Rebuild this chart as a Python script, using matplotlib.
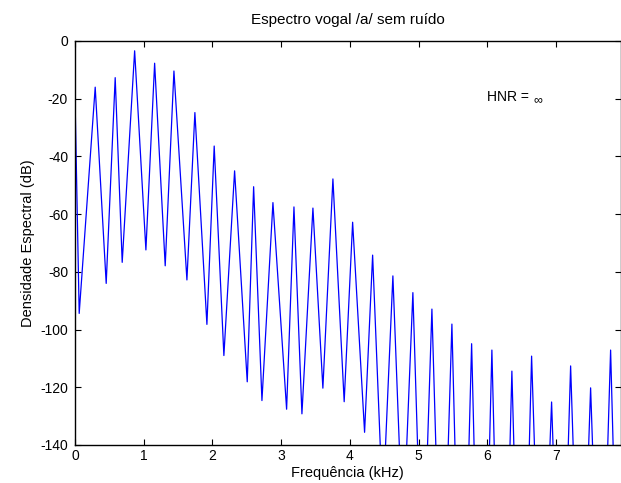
import matplotlib
matplotlib.use('Agg')
import matplotlib.pyplot as plt

plt.rcParams['font.family'] = ['Liberation Sans', 'DejaVu Sans']
plt.rcParams['axes.unicode_minus'] = False

# harmonic peaks (kHz, dB)
peak_freq = [0.294, 0.585, 0.868, 1.159, 1.440, 1.745, 2.026, 2.323, 2.600,
             2.881, 3.187, 3.463, 3.754, 4.041, 4.332, 4.627, 4.918, 5.195,
             5.486, 5.773, 6.068, 6.359, 6.646, 6.937, 7.214, 7.505, 7.796]
peak_db = [-16.0, -12.7, -3.4, -7.7, -10.4, -24.8, -36.4, -45.0, -50.5,
           -56.0, -57.5, -57.9, -47.8, -62.8, -74.2, -81.4, -87.2, -92.9,
           -98.1, -104.9, -107.1, -114.4, -109.2, -125.1, -112.6, -120.2, -107.1]

# minimum just before each peak (past ~4.4 kHz they fall under the -140 floor)
valley_freq = [0.061, 0.454, 0.687, 1.032, 1.313, 1.629, 1.920, 2.167, 2.507,
               2.721, 3.080, 3.303, 3.608, 3.918, 4.215, 4.480, 4.773, 5.057,
               5.340, 5.630, 5.920, 6.214, 6.503, 6.790, 7.076, 7.360, 7.650]
valley_db = [-94.4, -84.0, -76.7, -72.4, -77.9, -82.8, -98.2, -109.0, -118.1,
             -124.6, -127.6, -129.2, -120.3, -125.0, -135.6, -162, -173, -195,
             -213, -235, -250, -250, -243, -217, -224, -222, -223]

start_freq, start_db = 0.0, -19.3
end_freq, end_db = 7.94, -237

freq = [start_freq]
db = [start_db]
for vf, vd, pf, pd_ in zip(valley_freq, valley_db, peak_freq, peak_db):
    freq += [vf, pf]
    db += [vd, pd_]
freq.append(end_freq)
db.append(end_db)

fig = plt.figure(figsize=(6.21, 4.83), dpi=100)
ax = fig.add_axes([75 / 621, 38 / 483, 545.5 / 621, 404 / 483])

ax.plot(freq, db, color='#0000ff', lw=0.9)

ax.set_xlim(0, 7.94)
ax.set_ylim(-140, 0)
ax.set_xticks(range(0, 8))
ax.set_yticks(range(-140, 1, 20))
ax.tick_params(direction='in', top=True, right=True, length=4, width=0.8,
               labelsize=10)
ax.tick_params(axis='x', pad=3)
ax.tick_params(axis='y', pad=5)
for s in ax.spines.values():
    s.set_linewidth(1.0)

ax.set_title('Espectro vogal /a/ sem ruído', fontsize=11, pad=12)
ax.set_xlabel('Frequência (kHz)', fontsize=10.5, labelpad=2)
ax.set_ylabel('Densidade Espectral (dB)', fontsize=10.5, labelpad=4)
ax.text(6.0, -19.4, 'HNR =', fontsize=10, va='center', ha='left')
ax.text(6.67, -20.6, '∞', fontsize=9, va='center', ha='left')

fig.savefig('out.png', dpi=100)
